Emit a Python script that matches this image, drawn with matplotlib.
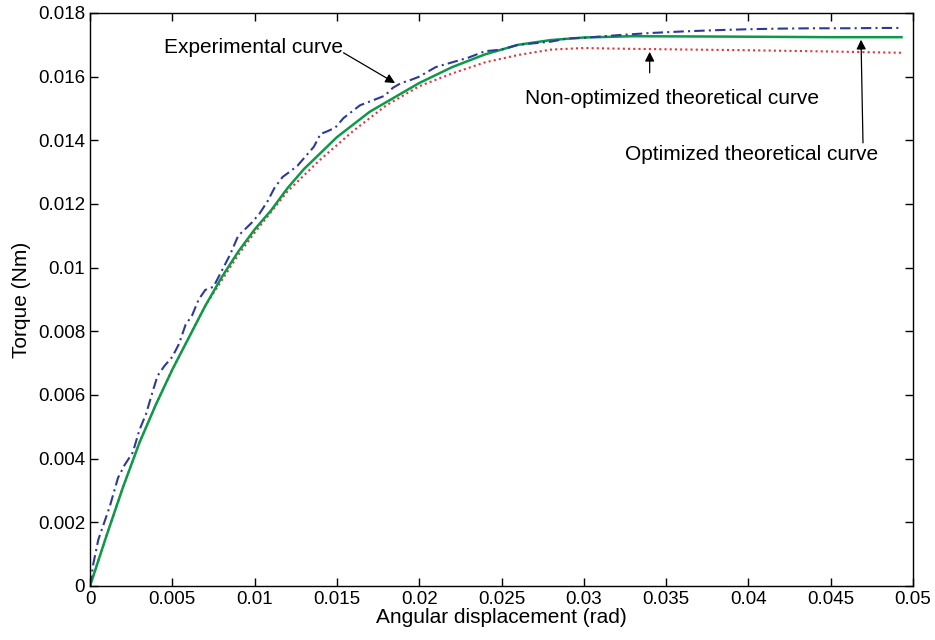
import numpy as np
import matplotlib
matplotlib.use('Agg')
import matplotlib.pyplot as plt

plt.rcParams['font.family'] = ['Liberation Sans', 'DejaVu Sans']

# experimental curve (blue dash-dot)
exp_x = [0, 0.0002, 0.0005, 0.0008, 0.0012, 0.0017, 0.0021, 0.0026, 0.0030, 0.0034,
         0.0038, 0.0041, 0.0045, 0.0050, 0.0054, 0.0058, 0.0062, 0.0066, 0.0070, 0.0075,
         0.0080, 0.0085, 0.0090, 0.0094, 0.0098, 0.0103, 0.0108, 0.0112, 0.0117, 0.0121,
         0.0126, 0.0131, 0.0136, 0.0140, 0.0144, 0.0149, 0.0154, 0.0159, 0.0164, 0.0169,
         0.0174, 0.0179, 0.0184, 0.0189, 0.0195, 0.0200, 0.0205, 0.021, 0.022, 0.023,
         0.024, 0.025, 0.026, 0.027, 0.028, 0.029, 0.030, 0.032, 0.034, 0.036,
         0.038, 0.040, 0.042, 0.044, 0.046, 0.048, 0.0493]
exp_y = [0, 0.0007, 0.00145, 0.0019, 0.0025, 0.0034, 0.0038, 0.0042, 0.0049, 0.0054,
         0.0061, 0.0066, 0.0069, 0.0072, 0.0076, 0.0082, 0.0085, 0.0090, 0.0093, 0.0094,
         0.0099, 0.0104, 0.0110, 0.0112, 0.0114, 0.0117, 0.0121, 0.0125, 0.01285, 0.0130,
         0.0132, 0.0135, 0.0138, 0.0142, 0.01428, 0.0144, 0.0147, 0.0149, 0.0151, 0.0152,
         0.0153, 0.0154, 0.01565, 0.0158, 0.0159, 0.0160, 0.01615, 0.0163, 0.01645, 0.0166,
         0.0168, 0.01685, 0.0170, 0.01705, 0.0171, 0.0172, 0.01722, 0.0173, 0.01737, 0.01742,
         0.01746, 0.01749, 0.01751, 0.01752, 0.01752, 0.01753, 0.01753]

# optimized theoretical curve (green solid)
opt_x = [0, 0.001, 0.002, 0.003, 0.004, 0.005, 0.006, 0.007, 0.008, 0.009,
         0.010, 0.011, 0.012, 0.013, 0.014, 0.015, 0.016, 0.017, 0.018, 0.019,
         0.020, 0.022, 0.024, 0.026, 0.028, 0.030, 0.033, 0.038, 0.045, 0.0493]
opt_y = [0, 0.00158, 0.0031, 0.0045, 0.0057, 0.0068, 0.0078, 0.0088, 0.0097, 0.0105,
         0.0112, 0.0118, 0.0125, 0.0131, 0.0136, 0.0141, 0.0145, 0.0149, 0.0152, 0.0155,
         0.0158, 0.0163, 0.0167, 0.0170, 0.01715, 0.01723, 0.01727, 0.01726, 0.01724, 0.01724]

# non-optimized theoretical curve (red dotted)
non_x = [0, 0.001, 0.002, 0.003, 0.004, 0.005, 0.006, 0.007, 0.008, 0.009,
         0.010, 0.012, 0.014, 0.016, 0.018, 0.020, 0.022, 0.024, 0.026, 0.028,
         0.030, 0.032, 0.035, 0.040, 0.045, 0.0493]
non_y = [0, 0.00158, 0.0031, 0.0045, 0.0057, 0.0068, 0.0078, 0.0088, 0.0096, 0.0104,
         0.0111, 0.0124, 0.0134, 0.0143, 0.0151, 0.0157, 0.0161, 0.01645, 0.01668, 0.01685,
         0.0169, 0.01688, 0.01686, 0.01683, 0.01679, 0.01675]

x_ticks = [0, 0.005, 0.01, 0.015, 0.02, 0.025, 0.03, 0.035, 0.04, 0.045, 0.05]
x_labels = ['0', '0.005', '0.01', '0.015', '0.02', '0.025', '0.03', '0.035', '0.04', '0.045', '0.05']
y_ticks = [0, 0.002, 0.004, 0.006, 0.008, 0.01, 0.012, 0.014, 0.016, 0.018]
y_labels = ['0', '0.002', '0.004', '0.006', '0.008', '0.01', '0.012', '0.014', '0.016', '0.018']

fig = plt.figure(figsize=(9.35, 6.4), dpi=100)
ax = fig.add_axes([0.0963, 0.0844, 0.8802, 0.8953])

ax.plot(non_x, non_y, color='#e8313a', linestyle=(0, (1, 1.5)), linewidth=1.5)
ax.plot(opt_x, opt_y, color='#0a9a4a', linestyle='-', linewidth=1.8)
ax.plot(exp_x, exp_y, color='#2e3a9a', linestyle=(0, (5, 2, 1, 2)), linewidth=1.5)

ax.set_xlim(0, 0.05)
ax.set_ylim(0, 0.018)
ax.set_xticks(x_ticks)
ax.set_xticklabels(x_labels)
ax.set_yticks(y_ticks)
ax.set_yticklabels(y_labels)
ax.tick_params(direction='in', top=True, right=True, labelsize=13.5, length=6, width=1)
for s in ax.spines.values():
    s.set_linewidth(1.0)
ax.set_xlabel('Angular displacement (rad)', fontsize=15, labelpad=0)
ax.set_ylabel('Torque (Nm)', fontsize=15, labelpad=5)

arrow = dict(arrowstyle='-|>', color='black', lw=0.9, mutation_scale=14,
             shrinkA=0, shrinkB=0)
ax.text(0.01535, 0.01693, 'Experimental curve', fontsize=15, ha='right', va='center')
ax.annotate('', xy=(0.01853, 0.0158), xytext=(0.01540, 0.01675), arrowprops=arrow)
ax.annotate('', xy=(0.0340, 0.01678), xytext=(0.0340, 0.01612), arrowprops=arrow)
ax.text(0.03536, 0.01532, 'Non-optimized theoretical curve', fontsize=15, ha='center', va='center')
ax.annotate('', xy=(0.04684, 0.01716), xytext=(0.04696, 0.01392), arrowprops=arrow)
ax.text(0.04017, 0.01354, 'Optimized theoretical curve', fontsize=15, ha='center', va='center')

fig.savefig('out.png', dpi=100)
